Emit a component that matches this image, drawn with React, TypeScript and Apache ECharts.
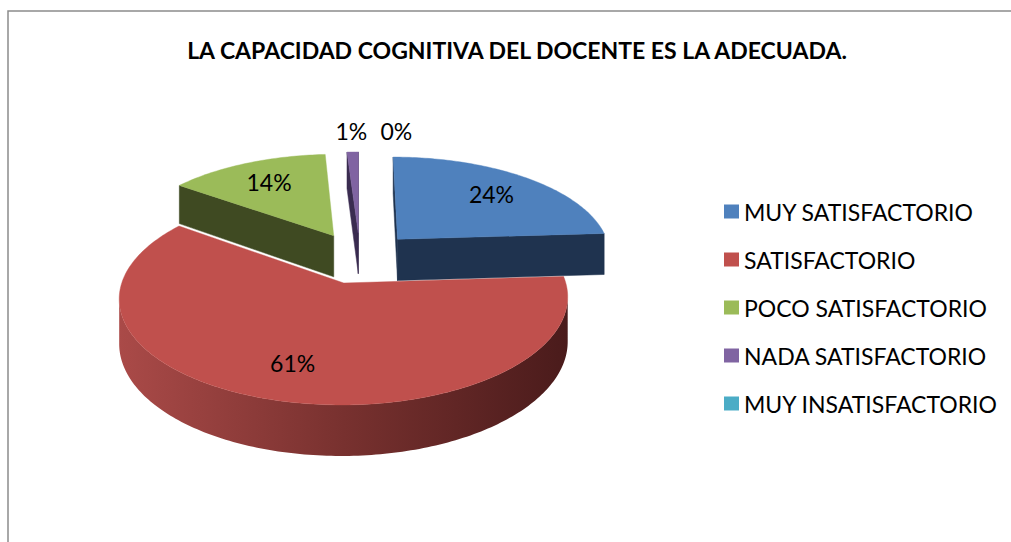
import React, { useEffect, useRef } from 'react';
import * as echarts from 'echarts';

// ---------- data ----------
const TITLE = 'LA CAPACIDAD COGNITIVA DEL DOCENTE ES LA ADECUADA.';
const categories = [
  'MUY SATISFACTORIO',
  'SATISFACTORIO',
  'POCO SATISFACTORIO',
  'NADA SATISFACTORIO',
  'MUY INSATISFACTORIO',
];
const values = [24, 61, 14, 1, 0];
const topColors = ['#4F81BD', '#C0504D', '#9BBB59', '#8064A2', '#4BACC6'];
const sideColors = ['#1F334F', '#5A2322', '#3F4A22', '#3A2C50', '#1E4E5A'];
const redWallStops = ['#AA4A48', '#78312F', '#4A1B1B'];

// ---------- layout (3D projection) ----------
const CX = 360;
const CY = 257.5;
const RX = 214.5;
const RY = 97.9;
const PERSP = 0.135;
const DEPTH = 42.4;
const EXPLODE = 0.262;
const LABEL_R_IN = 0.72;
const LABEL_R_OUT = 1.3;
const SMALL_SHARE = 0.05;
const LABEL_MIN_GAP = 45;
const FONT = 'Lato, "Open Sans", sans-serif';

const total = values.reduce((a, b) => a + b, 0);
const starts: number[] = [];
{
  let acc = 0;
  values.forEach((v) => {
    starts.push(acc);
    acc += v;
  });
}

function proj(X: number, Z: number, down: number): number[] {
  const s = 1 / (1 - PERSP * Z);
  return [CX + RX * X * s, CY + RY * Z * s + DEPTH * s * down];
}

function area(pts: number[][]): number {
  let a = 0;
  for (let k = 0; k < pts.length; k++) {
    const p = pts[k];
    const q = pts[(k + 1) % pts.length];
    a += p[0] * q[1] - q[0] * p[1];
  }
  return a / 2;
}

function geom(i: number) {
  const a0 = (starts[i] / total) * Math.PI * 2;
  const a1 = ((starts[i] + values[i]) / total) * Math.PI * 2;
  const mid = (a0 + a1) / 2;
  const ox = EXPLODE * Math.sin(mid);
  const oz = -EXPLODE * Math.cos(mid);
  const rim = (t: number, down: number) => proj(ox + Math.sin(t), oz - Math.cos(t), down);
  const apex = (down: number) => proj(ox, oz, down);
  const at = (r: number, t: number) => proj(ox + r * Math.sin(t), oz - r * Math.cos(t), 0);
  return { a0, a1, mid, ox, oz, rim, apex, at };
}

function renderSlice(i: number) {
  const g = geom(i);
  const children: any[] = [];
  if (values[i] <= 0) return { type: 'group', children };
  const n = Math.max(2, Math.ceil(((g.a1 - g.a0) * 180) / Math.PI));
  const ts: number[] = [];
  for (let k = 0; k <= n; k++) ts.push(g.a0 + ((g.a1 - g.a0) * k) / n);

  const startWall = [g.apex(0), g.rim(g.a0, 0), g.rim(g.a0, 1), g.apex(1)];
  const endWall = [g.rim(g.a1, 0), g.apex(0), g.apex(1), g.rim(g.a1, 1)];

  const runs: number[][] = [];
  let cur: number[] | null = null;
  for (let k = 0; k < n; k++) {
    const quad = [g.rim(ts[k], 0), g.rim(ts[k + 1], 0), g.rim(ts[k + 1], 1), g.rim(ts[k], 1)];
    const front = area(quad) < 0;
    if (front) {
      if (!cur) {
        cur = [k, k + 1];
        runs.push(cur);
      } else cur[1] = k + 1;
    } else cur = null;
  }
  runs.forEach(([k0, k1]) => {
    const pts: number[][] = [];
    for (let k = k0; k <= k1; k++) pts.push(g.rim(ts[k], 0));
    for (let k = k1; k >= k0; k--) pts.push(g.rim(ts[k], 1));
    let fill: any = sideColors[i];
    if (i === 1) {
      const xs = pts.map((p) => p[0]);
      const minX = Math.min(...xs);
      const maxX = Math.max(...xs);
      fill = new echarts.graphic.LinearGradient(
        minX, 0, maxX, 0,
        redWallStops.map((c, j) => ({ offset: j / (redWallStops.length - 1), color: c })),
        true
      );
    }
    children.push({
      type: 'polygon',
      shape: { points: pts },
      style: { fill, stroke: i === 1 ? 'none' : sideColors[i], lineWidth: 0.5 },
    });
  });
  [startWall, endWall].forEach((w) => {
    if (area(w) < 0) {
      children.push({
        type: 'polygon',
        shape: { points: w },
        style: { fill: sideColors[i], stroke: sideColors[i], lineWidth: 0.5 },
      });
    }
  });

  const top: number[][] = [g.apex(0)];
  ts.forEach((t) => top.push(g.rim(t, 0)));
  children.push({
    type: 'polygon',
    shape: { points: top },
    style: { fill: topColors[i], stroke: topColors[i], lineWidth: 0.4 },
  });
  return { type: 'group', children };
}

function labelPositions() {
  const out: { x: number; y: number }[] = [];
  let lastOutsideX = -Infinity;
  values.forEach((v, i) => {
    const g = geom(i);
    const small = v / total < SMALL_SHARE;
    const p = g.at(small ? LABEL_R_OUT : LABEL_R_IN, g.mid);
    let x = p[0];
    if (small) {
      if (x - lastOutsideX < LABEL_MIN_GAP) x = lastOutsideX + LABEL_MIN_GAP;
      lastOutsideX = x;
    }
    out.push({ x, y: p[1] });
  });
  return out;
}

function buildOption(): any {
  const order = values.map((_, i) => i).sort((a, b) => geom(a).oz - geom(b).oz);
  const labels = labelPositions();
  const sliceSeries = categories.map((name, i) => ({
    type: 'custom',
    name,
    coordinateSystem: 'none',
    silent: true,
    z: 2 + order.indexOf(i),
    itemStyle: { color: topColors[i] },
    data: [values[i]],
    renderItem: () => renderSlice(i),
  }));
  const labelSeries = {
    type: 'custom',
    coordinateSystem: 'none',
    silent: true,
    z: 20,
    data: values.map((v, i) => [i, v]),
    renderItem: (params: any) => {
      const i = params.dataIndex;
      const pct = Math.round((values[i] / total) * 100) + '%';
      return {
        type: 'text',
        x: labels[i].x,
        y: labels[i].y,
        style: {
          text: pct,
          fill: '#000',
          fontSize: 23,
          fontFamily: FONT,
          align: 'center',
          verticalAlign: 'middle',
          textAlign: 'center',
          textVerticalAlign: 'middle',
        },
      };
    },
  };
  return {
    animation: false,
    color: topColors,
    backgroundColor: '#fff',
    graphic: [
      {
        type: 'rect',
        shape: { x: 8, y: 11, width: 1200, height: 700 },
        style: { fill: 'none', stroke: '#8C8C8C', lineWidth: 1.5 },
        silent: true,
        z: 0,
      },
      {
        type: 'text',
        x: 517,
        y: 50,
        style: {
          text: TITLE,
          fill: '#000',
          fontSize: 23,
          fontWeight: 'bold',
          fontFamily: FONT,
          align: 'center',
          verticalAlign: 'middle',
          textAlign: 'center',
          textVerticalAlign: 'middle',
        },
        silent: true,
      },
    ],
    legend: {
      data: categories,
      orient: 'vertical',
      left: 719,
      top: 195,
      padding: 5,
      itemWidth: 15,
      itemHeight: 14,
      itemGap: 25,
      icon: 'rect',
      selectedMode: false,
      textStyle: { fontFamily: FONT, fontSize: 23, color: '#000', lineHeight: 23 },
    },
    series: [...sliceSeries, labelSeries],
  };
}

export default function App() {
  const ref = useRef<HTMLDivElement>(null);
  useEffect(() => {
    if (!ref.current) return;
    const chart = echarts.init(ref.current, null, { renderer: 'svg' });
    chart.setOption(buildOption());
    return () => chart.dispose();
  }, []);
  return (
    <div
      ref={ref}
      style={{ position: 'absolute', left: 0, top: 0, width: 1011, height: 542, background: '#fff' }}
    />
  );
}
